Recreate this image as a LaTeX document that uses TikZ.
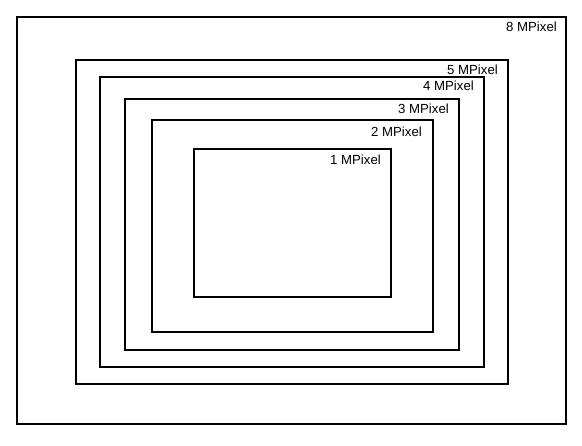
\documentclass[tikz,border=0pt]{standalone}
\usepackage{fontspec}
\setmainfont{Liberation Sans}
\begin{document}
\begin{tikzpicture}[x=1pt,y=-1pt,
  frame/.style={draw=black,line width=2pt},
  thickframe/.style={draw=black,line width=2.8pt},
  lbl/.style={anchor=base east,inner sep=0pt,font=\fontsize{13.2}{15}\selectfont}]
\useasboundingbox (0,0) rectangle (582,446);
\draw[thickframe] (17,17) rectangle (566,424);
\draw[frame] (76,60) rectangle (508,384);
\draw[thickframe] (100,77) rectangle (484,367);
\draw[frame] (125,99) rectangle (459,350);
\draw[frame] (152,120) rectangle (433,332);
\draw[frame] (194,149) rectangle (391,297);
\node[lbl] (l8) at (557,32) {8 MPixel};
\node[lbl] (l5) at (498,75) {5 MPixel};
\node[lbl] (l4) at (474,91) {4 MPixel};
\node[lbl] (l3) at (449,114) {3 MPixel};
\node[lbl] (l2) at (422,137) {2 MPixel};
\node[lbl] (l1) at (381,165) {1 MPixel};
\end{tikzpicture}
\end{document}
